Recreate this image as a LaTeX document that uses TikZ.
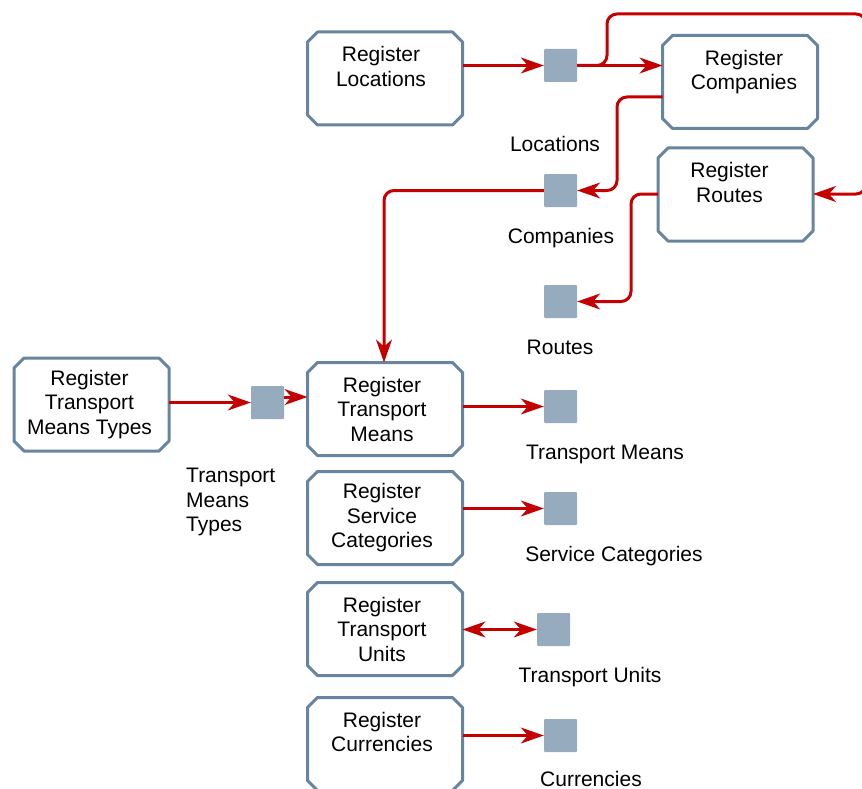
\documentclass[tikz,border=0pt]{standalone}
\usepackage{fontspec}
\setmainfont{Liberation Sans}
\usetikzlibrary{arrows.meta}
\definecolor{boxline}{RGB}{104,133,160}
\definecolor{storefill}{RGB}{151,171,191}
\definecolor{flowred}{RGB}{196,0,0}
\begin{document}
\begin{tikzpicture}[x=1pt,y=-1pt,
  font=\fontsize{21}{24.5}\selectfont,
  process/.style={rectangle, minimum width=155pt, minimum height=93pt,
    inner sep=0pt, outer sep=0pt, align=center},
  frame/.style={draw=boxline, fill=white, line width=3pt, line join=round},
  store/.style={rectangle, fill=storefill, minimum size=33pt, inner sep=0pt,
    rounded corners=1pt},
  lbl/.style={anchor=base, inner sep=0pt},
  tip/.tip={Stealth[length=23pt,width=16pt,inset=7pt,line width=1.5pt]},
  flow/.style={draw=flowred, line width=3pt, rounded corners=10pt, -tip},
]
\useasboundingbox (0,0) rectangle (862,789);
\clip (0,0) rectangle (862,789);

% processes
\node[process] (loc)    at (385,78.5)   {};
\node[process] (comp)   at (740,82)     {};
\node[process] (routes) at (735.5,194.5) {};
\node[process] (tmt)    at (91.5,404.5) {};
\node[process] (tm)     at (385,409)    {};
\node[process] (sc)     at (385,518)    {};
\node[process] (tu)     at (385,629)    {};
\node[process] (cur)    at (385,744)    {};

% chamfered outlines of the processes
\foreach \n in {loc,comp,routes,tmt,tm,sc,tu,cur}{
  \draw[frame] ([xshift=10pt]\n.north west) -- ([xshift=-10pt]\n.north east)
    -- ([yshift=-10pt]\n.north east) -- ([yshift=10pt]\n.south east)
    -- ([xshift=-10pt]\n.south east) -- ([xshift=10pt]\n.south west)
    -- ([yshift=10pt]\n.south west) -- ([yshift=-10pt]\n.north west) -- cycle;
}

% process captions
\node[align=center] (loctxt)   at ([xshift=-4pt]loc)    {Register\\Locations\\\mbox{}};
\node[align=center] (comptxt)  at ([xshift=4pt]comp)    {Register\\Companies\\\mbox{}};
\node[align=center] (routetxt) at ([xshift=-6pt]routes) {Register\\Routes\\\mbox{}};
\node[align=center] (tmttxt)   at ([xshift=-2pt]tmt)    {Register\\Transport\\Means Types};
\node[align=center] (tmtxt)    at ([xshift=-3pt]tm)     {Register\\Transport\\Means};
\node[align=center] (sctxt)    at ([xshift=-3pt]sc)     {Register\\Service\\Categories};
\node[align=center] (tutxt)    at ([xshift=-3pt]tu)     {Register\\Transport\\Units};
\node[align=center] (curtxt)   at ([xshift=-3pt]cur)    {Register\\Currencies\\\mbox{}};

% data stores
\node[store] (locsq)    at (560.5,65.5)  {};
\node[store] (compsq)   at (560.5,190.5) {};
\node[store] (routesq)  at (560.5,301.5) {};
\node[store] (tmtsq)    at (267.5,402.5) {};
\node[store] (tmsq)     at (560.5,406.5) {};
\node[store] (scsq)     at (560.5,508.5) {};
\node[store] (tusq)     at (553.5,629.5) {};
\node[store] (cursq)    at (560.5,735.5) {};

% store labels
\node[lbl] (loclbl)    at (555,151) {Locations};
\node[lbl] (complbl)   at (561,243) {Companies};
\node[lbl] (routelbl)  at (560,354) {Routes};
\node[anchor=west, align=left, inner sep=0pt] (tmtlbl) at (186,502) {Transport\\Means\\Types};
\node[lbl] (tmlbl)     at (605,459) {Transport Means};
\node[lbl] (sclbl)     at (614,561) {Service Categories};
\node[lbl] (tulbl)     at (590,682) {Transport Units};
\node[lbl] (curlbl)    at (591,786) {Currencies};

% flows
\draw[flow] (loc.east |- locsq) -- (locsq.west);
\draw[flow] (locsq.east) -- (comp.west |- locsq);
\draw[flow] (locsq.east) -- (607,65.5) -- (607,14) -- (866,14) -- (866,194)
  -- (routes.east |- 0,194);
\draw[flow] (comp.west |- 0,97) -- (617,97) |- (compsq.east);
\draw[flow] (compsq.west) -| ([xshift=-1pt]tm.north);
\draw[flow] (routes.west |- 0,194) -- (631,194) |- (routesq.east);
\draw[flow] (tmt.east |- tmtsq) -- (tmtsq.west);
\draw[flow] (tmtsq.east |- 0,397) -- (tm.west |- 0,397);
\draw[flow] (tm.east |- tmsq) -- (tmsq.west);
\draw[flow] (sc.east |- scsq) -- (scsq.west);
\draw[flow, tip-tip] (tu.east |- tusq) -- (tusq.west);
\draw[flow] (cur.east |- cursq) -- (cursq.west);
\end{tikzpicture}
\end{document}
